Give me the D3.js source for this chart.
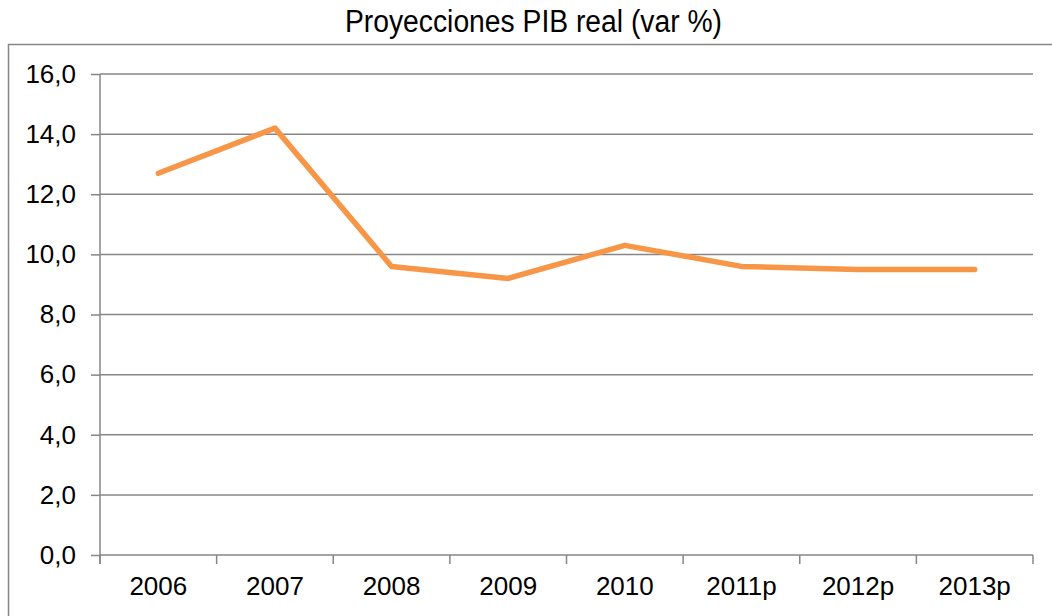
<!DOCTYPE html>
<html>
<head>
<meta charset="utf-8">
<script src="https://cdn.jsdelivr.net/npm/d3@7"></script>
<style>
  body { margin: 0; background: #fff; }
  svg { display: block; }
  text { font-family: "Liberation Sans", Arial, sans-serif; fill: #000; }
</style>
</head>
<body>
<div id="chart"></div>
<script>
// chart data
var years = ["2006", "2007", "2008", "2009", "2010", "2011p", "2012p", "2013p"];
var pibValues = [12.7, 14.2, 9.6, 9.2, 10.3, 9.6, 9.5, 9.5];
var yTicks = [0, 2, 4, 6, 8, 10, 12, 14, 16];

var width = 1052, height = 616,
    plot = {left: 100, right: 1033, top: 74, bottom: 555};

var svg = d3.select("#chart").append("svg")
    .attr("width", width)
    .attr("height", height);

var gridColor = "#868686";

// outer frame
svg.append("path")
  .attr("d", "M8.5," + height + "V44.5H" + width)
  .attr("fill", "none")
  .attr("stroke", gridColor)
  .attr("stroke-width", 1.5);

svg.append("text")
  .attr("x", 533.5)
  .attr("y", 32)
  .attr("text-anchor", "middle")
  .attr("font-size", 31)
  .attr("textLength", 377)
  .attr("lengthAdjust", "spacingAndGlyphs")
  .style("font-family", "'Liberation Sans Narrow', 'Arial Narrow', 'Liberation Sans', sans-serif")
  .text("Proyecciones PIB real (var %)");

var x = d3.scaleBand()
    .domain(years)
    .range([plot.left, plot.right])
    .padding(0);

var y = d3.scaleLinear()
    .domain([0, 16])
    .range([plot.bottom, plot.top]);

// horizontal gridlines
svg.append("g")
  .selectAll("line")
  .data(yTicks.slice(1))
  .enter().append("line")
    .attr("x1", plot.left)
    .attr("x2", plot.right)
    .attr("y1", function(d) { return y(d); })
    .attr("y2", function(d) { return y(d); })
    .attr("stroke", gridColor)
    .attr("stroke-width", 1.5);

// y axis
var yAxis = svg.append("g")
  .attr("transform", "translate(" + plot.left + ",0)")
  .call(d3.axisLeft(y)
    .tickValues(yTicks)
    .tickSize(9)
    .tickPadding(15)
    .tickFormat(function(d) { return d3.format(".1f")(d).replace(".", ","); }));
yAxis.select(".domain").remove();
yAxis.append("line")
  .attr("x1", 0).attr("x2", 0)
  .attr("y1", plot.top).attr("y2", plot.bottom + 9)
  .attr("stroke", gridColor)
  .attr("stroke-width", 1.5);
yAxis.selectAll(".tick line").attr("stroke", gridColor).attr("stroke-width", 1.5);
yAxis.selectAll(".tick text")
  .attr("font-size", 26)
  .style("font-family", "'Liberation Sans', Arial, sans-serif");

// x axis
var xAxis = svg.append("g")
  .attr("transform", "translate(0," + plot.bottom + ")")
  .call(d3.axisBottom(x).tickSize(0).tickPadding(22));
xAxis.select(".domain").remove();
xAxis.append("line")
  .attr("x1", plot.left).attr("x2", plot.right)
  .attr("stroke", gridColor)
  .attr("stroke-width", 1.5);
xAxis.selectAll(".tick text")
  .attr("font-size", 26)
  .style("font-family", "'Liberation Sans', Arial, sans-serif");

// tick marks at category boundaries
var edges = years.map(function(d) { return x(d); }).concat([x.range()[1]]);
xAxis.selectAll(".edge")
  .data(edges)
  .enter().append("line")
    .attr("class", "edge")
    .attr("x1", function(d) { return d; })
    .attr("x2", function(d) { return d; })
    .attr("y1", 0)
    .attr("y2", 9)
    .attr("stroke", gridColor)
    .attr("stroke-width", 1.5);

// data line
var line = d3.line()
  .x(function(d, i) { return x(years[i]) + x.bandwidth() / 2; })
  .y(function(d) { return y(d); });

svg.append("path")
  .datum(pibValues)
  .attr("d", line)
  .attr("fill", "none")
  .attr("stroke", "#F79646")
  .attr("stroke-width", 5.5)
  .attr("stroke-linejoin", "round")
  .attr("stroke-linecap", "round");
</script>
</body>
</html>
